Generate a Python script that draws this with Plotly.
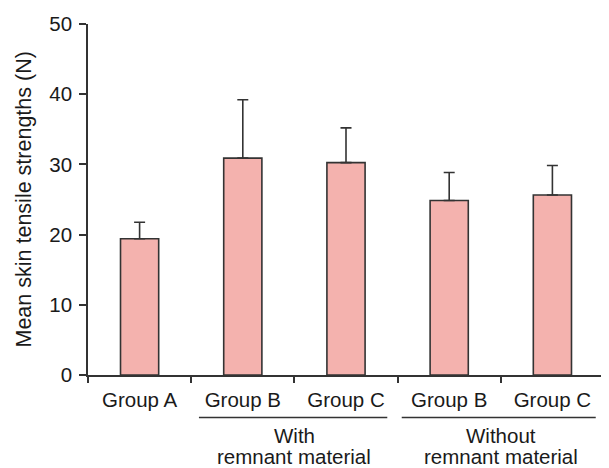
import plotly.graph_objects as go

groups = ["Group A", "Group B", "Group C", "Group B", "Group C"]
means = [19.4, 30.9, 30.25, 24.85, 25.65]
sd = [2.35, 8.3, 4.95, 4.0, 4.2]
y_ticks = [0, 10, 20, 30, 40, 50]
y_title = "Mean skin tensile strengths (N)"
bracket_labels = [("With", "remnant material"), ("Without", "remnant material")]
bracket_spans = [(1, 2), (3, 4)]

FONT = "Liberation Sans, Arial, sans-serif"
AX = "#333333"
FS = 20.5

x = list(range(len(groups)))

# the page adds an 8px body margin, so the figure is 8px smaller on each axis
W, H = 601, 460
ML, MT, MB, MR = 80, 16, 93, 5
plot_w = W - ML - MR
plot_h = H - MT - MB

fig = go.Figure()
fig.add_trace(go.Bar(
    x=x, y=means, width=0.37,
    marker=dict(color="#F4B2AE", line=dict(color="#333333", width=1.6)),
    error_y=dict(type="data", symmetric=False, array=sd, arrayminus=[0] * len(sd),
                 color="#333333", thickness=1.6, width=5.5),
    showlegend=False,
))
fig.add_trace(go.Scatter(x=[-0.5, 4.5], y=[0, 0], xaxis="x2", mode="markers",
                         marker=dict(opacity=0), showlegend=False, hoverinfo="skip"))

fig.update_layout(
    width=W, height=H,
    margin=dict(l=ML, r=MR, t=MT, b=MB),
    plot_bgcolor="white", paper_bgcolor="white",
    font=dict(family=FONT, size=FS, color="#1a1a1a"),
    xaxis=dict(range=[-0.5, 4.5], tickvals=x, ticktext=groups, ticks="",
               showline=True, linecolor=AX, linewidth=1.6, showgrid=False,
               zeroline=False, tickfont=dict(size=FS), ticklabelstandoff=6),
    xaxis2=dict(range=[-0.5, 4.5], overlaying="x", side="bottom",
                tickvals=[-0.5, 0.5, 1.5, 2.5, 3.5], showticklabels=False,
                ticks="outside", ticklen=7, tickwidth=1.6, tickcolor=AX,
                showline=False, showgrid=False, zeroline=False),
    yaxis=dict(range=[0, 50], tickvals=y_ticks, ticks="outside", ticklen=7,
               tickwidth=1.6, tickcolor=AX, showline=True, linecolor=AX,
               linewidth=1.6, showgrid=False, zeroline=False,
               tickfont=dict(size=FS), ticklabelstandoff=3),
)

# y-axis title placed as rotated text
fig.add_annotation(text=y_title, textangle=-90, showarrow=False,
                   xref="paper", yref="paper", x=(15 - ML) / plot_w, y=0.5,
                   xanchor="center", yanchor="middle", font=dict(size=21.5))

bracket_pad = [(-0.425, 0.40), (-0.46, 0.42)]
for (a, b), (l1, l2), (p0, p1) in zip(bracket_spans, bracket_labels, bracket_pad):
    fig.add_shape(type="line", xref="x", yref="paper",
                  x0=a + p0, x1=b + p1, y0=-42.5 / plot_h, y1=-42.5 / plot_h,
                  line=dict(color=AX, width=1.4))
    cx = (a + b) / 2
    fig.add_annotation(x=cx, xref="x", y=-60 / plot_h, yref="paper", text=l1,
                       showarrow=False, yanchor="middle", font=dict(size=FS))
    fig.add_annotation(x=cx, xref="x", y=-81 / plot_h, yref="paper", text=l2,
                       showarrow=False, yanchor="middle", font=dict(size=FS))

fig.write_html("out.html")
